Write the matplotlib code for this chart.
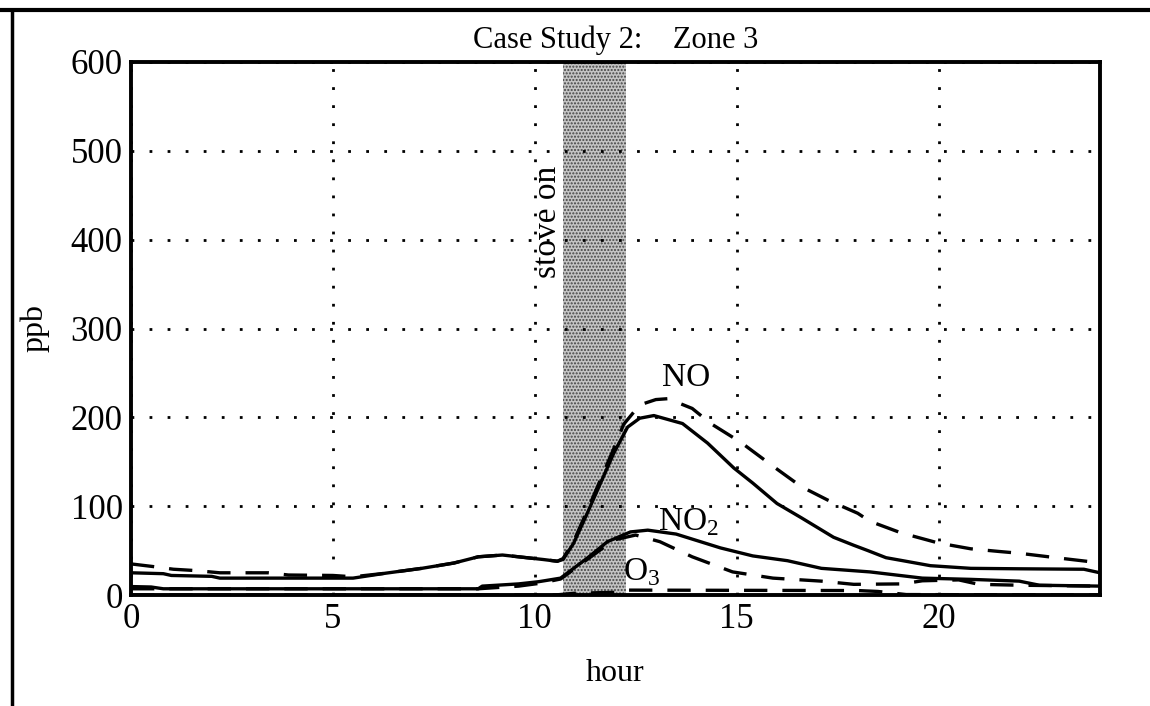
import matplotlib
matplotlib.use("Agg")
import matplotlib.pyplot as plt
from matplotlib.lines import Line2D

plt.rcParams['font.family'] = ['Liberation Serif', 'DejaVu Serif']
plt.rcParams['mathtext.fontset'] = 'custom'
plt.rcParams['mathtext.rm'] = 'Liberation Serif'
plt.rcParams['hatch.linewidth'] = 1.0

# ---- data ----
no_meas_h = [0, 0.8, 1.0, 2.0, 2.2, 5.5, 6.3, 7.2, 8.0, 8.6, 9.2, 9.8, 10.2, 10.56, 10.7,
             10.96, 11.3, 11.63, 11.96, 12.3, 12.6, 12.95, 13.66, 14.28, 14.93, 15.4, 16.0,
             16.6, 17.4, 17.9, 18.25, 18.7, 19.07, 19.8, 20.8, 22.0, 23.6, 24.0]
no_meas_v = [25, 24, 22, 21, 19, 19, 24.5, 30, 36, 43, 45, 42, 40, 38, 40,
             58, 92, 126, 160, 189, 199, 202, 193, 171, 143, 126, 103,
             87, 65, 56, 50, 42, 39, 33, 30, 29.5, 29, 25]

no_model_h = [0, 0.55, 1.05, 1.6, 2.2, 3.4, 3.9, 5.0, 5.5, 6.3, 7.2, 8.0, 8.6, 9.2, 9.8,
              10.2, 10.56, 10.7, 10.96, 11.3, 11.63, 11.96, 12.2, 12.6, 13.0, 13.3, 13.9,
              14.36, 15.1, 15.9, 16.6, 17.25, 18.0, 18.3, 19.07, 20.0, 20.8, 21.5, 22.0,
              23.0, 23.85, 24.0]
no_model_v = [35, 32, 29, 27.5, 25, 25, 22.5, 22, 20.5, 24.5, 30, 36, 43, 45, 42,
              40, 38, 41, 60, 95, 130, 165, 192, 214, 220, 221, 210,
              193, 172, 145, 122, 107, 92, 83, 70, 58.5, 52, 49, 47,
              41.5, 37, 37]

no2_meas_h = [0, 0.5, 0.8, 8.6, 8.7, 9.6, 10.1, 10.64, 11.3, 11.8, 12.37, 12.8, 13.5,
              14.6, 15.4, 16.26, 17.1, 18.3, 19.6, 20.8, 22.0, 22.5, 24.0]
no2_meas_v = [9.5, 9, 7, 7, 10, 12.5, 15, 19, 41.5, 60, 71, 73, 68.6,
              53, 44, 38.6, 30, 26, 19, 17.6, 15.6, 11, 10]

no2_model_h = [0, 8.6, 9.6, 10.1, 10.64, 11.3, 11.96, 12.5, 13.1, 13.9, 14.9, 15.9,
               17.1, 17.9, 19.1, 19.6, 20.5, 21.0, 22.0, 24.0]
no2_model_v = [7, 7, 10, 13, 18, 40, 62, 67.5, 60, 43, 26, 19,
               15.6, 12, 12.5, 16, 17, 12, 11, 10]

o3_model_h = [0, 10.5, 11.0, 12.0, 12.3, 18.0, 18.5, 19.2, 24.0]
o3_model_v = [0, 0, 2, 3, 5.5, 5, 4, 0.5, 0]

stove_on = (10.7, 12.25)
x_ticks = [0, 5, 10, 15, 20]
y_ticks = [0, 100, 200, 300, 400, 500, 600]

# ---- figure ----
fig = plt.figure(figsize=(11.5, 7.06), dpi=100)
ax = fig.add_axes([131/1150, 1 - 595/706, (1100 - 131)/1150, (595 - 62)/706])

ax.axvspan(stove_on[0], stove_on[1], facecolor='#c4c4c4', edgecolor='#444444',
           hatch='.....', linewidth=0, zorder=1)

lw = 2.4
dash = (0, (7, 4.5))
ax.plot(no_meas_h, no_meas_v, color='black', lw=lw, zorder=3)
ax.plot(no_model_h, no_model_v, color='black', lw=lw, ls=dash, zorder=3)
ax.plot(no2_meas_h, no2_meas_v, color='black', lw=lw, zorder=3)
ax.plot(no2_model_h, no2_model_v, color='black', lw=lw, ls=dash, zorder=3)
ax.plot(o3_model_h, o3_model_v, color='black', lw=lw, ls=dash, zorder=3)

ax.set_xlim(0, 24)
ax.set_ylim(0, 600)
ax.set_xticks(x_ticks)
ax.set_yticks(y_ticks)
ax.grid(True, color='black', linestyle=(0, (1, 5.5)), linewidth=2.0, zorder=2)
ax.set_axisbelow(False)
ax.tick_params(direction='in', length=0, labelsize=25, pad=6)
for s in ax.spines.values():
    s.set_linewidth(2.8)
    s.set_zorder(4)

ax.set_title('Case Study 2:    Zone 3', fontsize=22, pad=10)
ax.set_xlabel('hour', fontsize=23, labelpad=16)
ax.set_ylabel('ppb', fontsize=23, labelpad=15)

ax.text(10.31, 420, 'stove on', rotation=90, fontsize=24, ha='center', va='center', zorder=5)
ax.text(13.74, 244, 'NO', fontsize=24, ha='center', va='center', zorder=5)
ax.text(13.8, 82, 'NO$_2$', fontsize=24, ha='center', va='center', zorder=5)
ax.text(12.65, 26, 'O$_3$', fontsize=24, ha='center', va='center', zorder=5)

# page frame lines
fig.add_artist(Line2D([0, 1], [1 - 10/706, 1 - 10/706], color='black', lw=3))
fig.add_artist(Line2D([12/1150, 12/1150], [0, 1 - 10/706], color='black', lw=2.5))

fig.savefig('out.png', dpi=100)
